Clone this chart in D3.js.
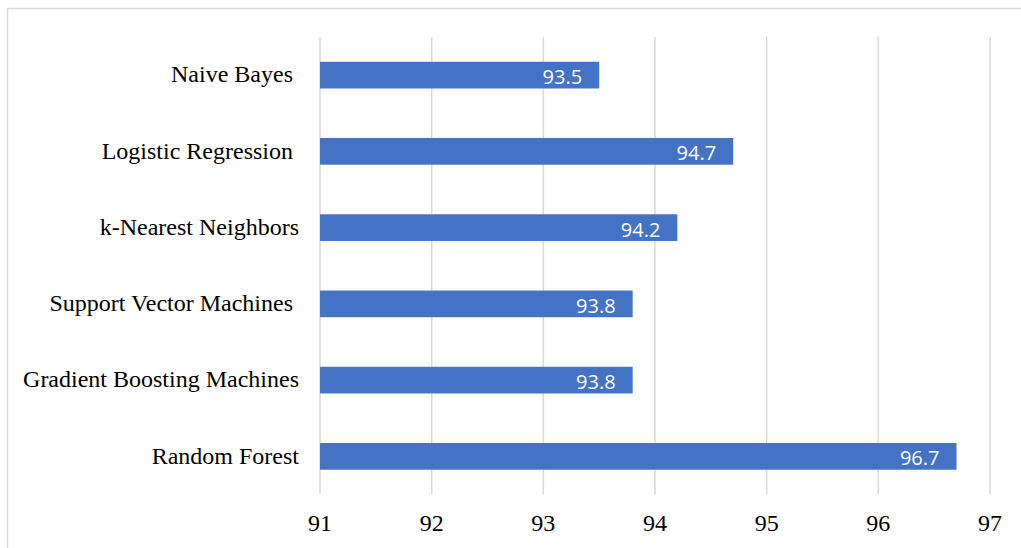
<!DOCTYPE html>
<html>
<head>
<meta charset="utf-8">
<script src="https://cdn.jsdelivr.net/npm/d3@7"></script>
<style>
  body { margin: 0; background: #fff; }
  svg { display: block; }
</style>
</head>
<body>
<svg width="1021" height="548"></svg>
<script>
var categories = ["Naive Bayes ", "Logistic Regression ", "k-Nearest Neighbors", "Support Vector Machines ", "Gradient Boosting Machines", "Random Forest"];
var values = [93.5, 94.7, 94.2, 93.8, 93.8, 96.7];
var ticks = [91, 92, 93, 94, 95, 96, 97];

var svg = d3.select("svg");

// cornice del grafico
svg.append("rect")
    .attr("x", 7.5).attr("y", 8.5)
    .attr("width", 1030).attr("height", 560)
    .attr("fill", "none")
    .attr("stroke", "#d9d9d9")
    .attr("stroke-width", 1.5);

var xScale = d3.scaleLinear()
    .domain([91, 97])
    .range([320, 990]);

var yScale = d3.scaleBand()
    .domain(categories)
    .range([37, 494.5])
    .paddingInner(0.65)
    .paddingOuter(0.325);

// griglia verticale
svg.selectAll(".grid")
    .data(ticks)
    .enter()
    .append("line")
    .attr("x1", function (d) { return xScale(d); })
    .attr("x2", function (d) { return xScale(d); })
    .attr("y1", 37)
    .attr("y2", 494.5)
    .attr("stroke", "#d9d9d9")
    .attr("stroke-width", 1.5);

// barre
svg.selectAll(".bar")
    .data(values)
    .enter()
    .append("rect")
    .attr("x", xScale(91))
    .attr("y", function (d, i) { return yScale(categories[i]); })
    .attr("width", function (d) { return xScale(d) - xScale(91); })
    .attr("height", yScale.bandwidth())
    .attr("fill", "#4472c4");

// etichette valori
svg.selectAll(".val")
    .data(values)
    .enter()
    .append("text")
    .attr("x", function (d) { return xScale(d) - 17; })
    .attr("y", function (d, i) { return yScale(categories[i]) + yScale.bandwidth() / 2; })
    .attr("dy", "0.45em")
    .attr("text-anchor", "end")
    .attr("fill", "#fff")
    .style("font-family", "'Open Sans', 'Liberation Sans', sans-serif")
    .style("font-size", "20px")
    .text(function (d) { return d.toFixed(1); });

// etichette categorie
svg.selectAll(".cat")
    .data(categories)
    .enter()
    .append("text")
    .attr("x", 299)
    .attr("y", function (d) { return yScale(d) + yScale.bandwidth() / 2; })
    .attr("dy", "0.3em")
    .attr("text-anchor", "end")
    .attr("fill", "#000")
    .style("white-space", "pre")
    .style("font-family", "'Liberation Serif', 'Times New Roman', serif")
    .style("font-size", "24px")
    .text(function (d) { return d; });

// etichette asse x
svg.selectAll(".tick")
    .data(ticks)
    .enter()
    .append("text")
    .attr("x", function (d) { return xScale(d); })
    .attr("y", 523)
    .attr("dy", "0.35em")
    .attr("text-anchor", "middle")
    .attr("fill", "#000")
    .style("font-family", "'Liberation Serif', 'Times New Roman', serif")
    .style("font-size", "24px")
    .text(function (d) { return d; });
</script>
</body>
</html>
